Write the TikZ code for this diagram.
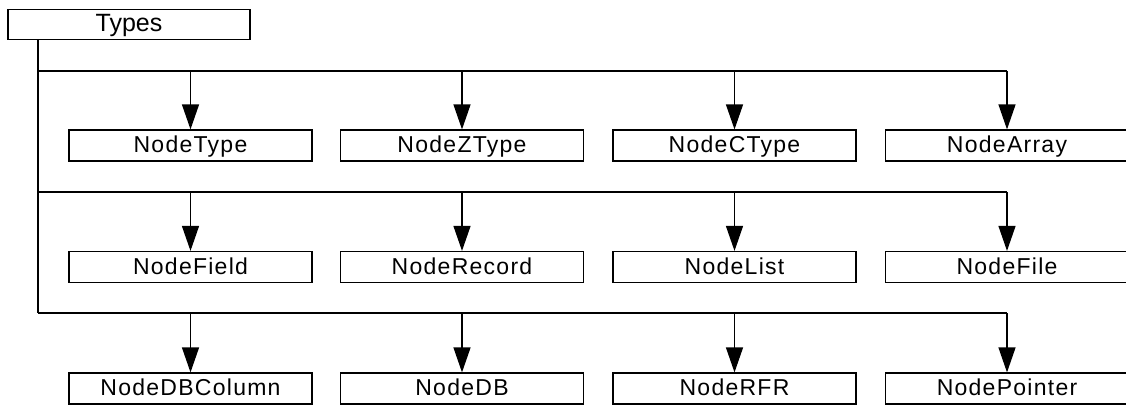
\documentclass[tikz,border=0pt]{standalone}
\usepackage{fontspec}
\setmainfont{Liberation Sans}
\newfontfamily\labelfont[LetterSpace=5.5]{Liberation Sans}
\usetikzlibrary{arrows.meta}
\begin{document}
\begin{tikzpicture}[x=1pt,y=-1pt,
  box/.style={draw=black,line width=1.2pt,minimum width=243pt,minimum height=31pt,inner sep=0pt,
    font=\labelfont\fontsize{23}{26}\selectfont,text height=16pt,text depth=2pt},
  topbox/.style={draw=black,line width=1.2pt,minimum width=242pt,minimum height=30.5pt,inner sep=0pt,
    font=\fontsize{25}{28}\selectfont,text height=18.5pt,text depth=4.5pt},
  wire/.style={draw=black,line width=1.2pt},
  arr/.style={wire,-{Triangle[length=25pt,width=17pt]}}]
\useasboundingbox (0,0) rectangle (1126,405);
\clip (0,0) rectangle (1126,405);
\node[topbox] (types) at (129,24.5) {Types};
\coordinate (trunk) at (38,40);
\coordinate (bus1) at (1007,71);
\coordinate (bus2) at (1007,192);
\coordinate (bus3) at (1007,313);
% row 1
\node[box] (n11) at (190.5,145.5) {NodeType};
\node[box] (n12) at (462,145.5) {NodeZType};
\node[box] (n13) at (734.5,145.5) {NodeCType};
\node[box] (n14) at (1007,145.5) {NodeArray};
% row 2
\node[box] (n21) at (190.5,267) {NodeField};
\node[box] (n22) at (462,267) {NodeRecord};
\node[box] (n23) at (734.5,267) {NodeList};
\node[box] (n24) at (1007,267) {NodeFile};
% row 3
\node[box] (n31) at (190.5,388.5) {NodeDBColumn};
\node[box] (n32) at (462,388.5) {NodeDB};
\node[box] (n33) at (734.5,388.5) {NodeRFR};
\node[box] (n34) at (1007,388.5) {NodePointer};
% trunk and buses
\draw[wire] (trunk) -- (trunk |- bus3);
\draw[wire] (trunk |- bus1) -- (bus1);
\draw[wire] (trunk |- bus2) -- (bus2);
\draw[wire] (trunk |- bus3) -- (bus3);
% arrows
\foreach \r in {1,2,3}{
  \foreach \c in {1,2,3,4}{
    \draw[arr] (n\r\c.north |- bus\r) -- (n\r\c.north);
  }
}
\end{tikzpicture}
\end{document}
